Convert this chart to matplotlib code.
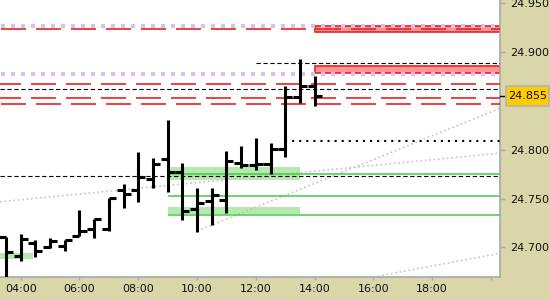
import numpy as np
import matplotlib
matplotlib.use("Agg")
import matplotlib.pyplot as plt
from matplotlib.patches import Rectangle
from matplotlib.transforms import blended_transform_factory

plt.rcParams['lines.scale_dashes'] = False
plt.rcParams['font.family'] = ['DejaVu Sans']

# ------------------------------------------
# data : half-hour OHLC bars (time in hours)
# ------------------------------------------
bar_time = [3.5, 4.0, 4.5, 5.0, 5.5, 6.0, 6.5, 7.0, 7.5, 8.0, 8.5,
            9.0, 9.5, 10.0, 10.5, 11.0, 11.5, 12.0, 12.5, 13.0, 13.5, 14.0]
bar_open = [24.711, 24.691, 24.704, 24.700, 24.701, 24.712, 24.719, 24.719, 24.759, 24.759, 24.770,
            24.790, 24.777, 24.739, 24.747, 24.749, 24.786, 24.784, 24.785, 24.801, 24.854, 24.865]
bar_high = [24.711, 24.714, 24.707, 24.710, 24.708, 24.738, 24.729, 24.751, 24.765, 24.798, 24.792,
            24.830, 24.786, 24.761, 24.761, 24.799, 24.804, 24.812, 24.807, 24.865, 24.893, 24.876]
bar_low = [24.667, 24.686, 24.690, 24.6995, 24.696, 24.712, 24.710, 24.717, 24.740, 24.746, 24.761,
           24.757, 24.728, 24.716, 24.723, 24.735, 24.781, 24.779, 24.775, 24.793, 24.848, 24.845]
bar_close = [24.695, 24.709, 24.696, 24.706, 24.708, 24.717, 24.729, 24.751, 24.755, 24.772, 24.785,
             24.777, 24.737, 24.745, 24.754, 24.788, 24.784, 24.785, 24.801, 24.854, 24.865, 24.855]
last_price = 24.855

# levels
purple_levels = [24.9271, 24.8776]
red_levels_a = [24.9234, 24.8466]
red_levels_b = [24.8670, 24.8528]
black_dash_levels = [24.8619, 24.7735]
black_dash_late = 24.8885      # from 12:00
black_dash_late_start = 12.0
black_dot_level = 24.8092      # from 13:00
black_dot_start = 13.0
green_levels = [24.7752, 24.7528, 24.7327]
green_start = 9.0
green_bands = [(24.7694, 24.7819), (24.7337, 24.7411)]
green_band_span = (9.0, 13.5)
small_band = (24.6878, 24.6946)
small_band_end = 4.43
red_boxes = [(24.9203, 24.9271), (24.8783, 24.8861)]
red_box_start = 14.0

# grey trend lines (start time, start value, end value at right edge)
trend_start_t = [3.296, 10.0, 16.0]
trend_start_v = [24.7467, 24.7167, 24.6696]
trend_end_v = [24.7965, 24.8424, 24.6939]

x_start, x_end = 3.296, 20.307
y_low, y_high = 24.6696, 24.9534

xtick_hours = [4, 6, 8, 10, 12, 14, 16, 18, 20]
xtick_labels = ['04:00', '06:00', '08:00', '10:00', '12:00', '14:00', '16:00', '18:00', '']
ytick_vals = [24.70, 24.75, 24.80, 24.90, 24.95]

'''
///////////////////////////////////////////////////////////
'''
tan = '#d9d6aa'
grey = '#a8a8a8'
red = '#ee2020'

fig = plt.figure(figsize=(5.5, 3), dpi=100)
fig.patch.set_facecolor(tan)
ax = fig.add_axes([0, 23 / 300, 500 / 550, 277 / 300])
ax.set_facecolor('white')
ax.set_xlim(x_start, x_end)
ax.set_ylim(y_low, y_high)

# shaded zones
for lo, hi in green_bands:
    ax.axhspan(lo, hi, xmin=(green_band_span[0] - x_start) / (x_end - x_start),
               xmax=(green_band_span[1] - x_start) / (x_end - x_start),
               color='#b6e9ae', lw=0, zorder=1)
ax.axhspan(small_band[0], small_band[1], xmin=0,
           xmax=(small_band_end - x_start) / (x_end - x_start), color='#b6e9ae', lw=0, zorder=1)
for lo, hi in red_boxes:
    ax.add_patch(Rectangle((red_box_start, lo), x_end - red_box_start, hi - lo,
                           facecolor='#ff9494', edgecolor=red, lw=1.2, zorder=1.5))

# levels
for v in purple_levels:
    ax.axhline(v, color='#dcbef0', lw=2.9, linestyle=(6.5, (2.9, 4.3)), zorder=2)
for v in red_levels_a:
    ax.axhline(v, color=red, lw=1.2, linestyle=(24.5, (18, 7.2)), zorder=3)
for v in red_levels_b:
    ax.axhline(v, color=red, lw=1.2, linestyle=(2.9, (18, 7.2)), zorder=3)
for v in black_dash_levels:
    ax.axhline(v, color='black', lw=0.8, linestyle=(0, (3.1, 1.9)), zorder=3)
ax.hlines(black_dash_late, black_dash_late_start, x_end, color='black', lw=0.8,
          linestyle=(0, (3.1, 1.9)), zorder=3)
ax.hlines(black_dot_level, black_dot_start, x_end, color='black', lw=1.5,
          linestyle=(0, (1.5, 3.6)), zorder=3)
ax.hlines(green_levels, green_start, x_end, color='#44cc44', lw=1.1, zorder=3)

for t0, v0, v1 in zip(trend_start_t, trend_start_v, trend_end_v):
    ax.plot([t0, x_end], [v0, v1], color='#c4c4c4', lw=1.2,
            linestyle=(0, (1.2, 2.0)), zorder=2.5)

# OHLC bars
bt = np.array(bar_time)
ax.vlines(bt, bar_low, bar_high, color='black', lw=2.2, zorder=6)
ax.hlines(bar_open, bt - 0.24, bt, color='black', lw=2.2, zorder=6)
ax.hlines(bar_close, bt, bt + 0.24, color='black', lw=2.2, zorder=6)

# axes styling
for s in ['left', 'top']:
    ax.spines[s].set_visible(False)
for s in ['right', 'bottom']:
    ax.spines[s].set_color(grey)
    ax.spines[s].set_linewidth(1.2)
ax.yaxis.tick_right()
ax.set_yticks(ytick_vals)
ax.set_yticklabels([f'{v:.3f}' for v in ytick_vals])
ax.set_xticks(xtick_hours)
ax.set_xticklabels(xtick_labels)
ax.tick_params(axis='y', length=3.6, width=1, color=grey, pad=3.5, labelsize=8, labelcolor='#111111')
ax.tick_params(axis='x', length=2.3, width=1, color=grey, pad=2.5, labelsize=8, labelcolor='#111111')

# last price label
tr = blended_transform_factory(ax.transAxes, ax.transData)
ax.add_patch(Rectangle((1.012, last_price - 0.0107), 0.085, 0.0214, transform=tr,
                       facecolor='#ffcc00', edgecolor='#b4b4b4', lw=1.2, clip_on=False, zorder=8))
ax.plot([1.0, 1.009], [last_price, last_price], color='black', lw=1, transform=tr,
        clip_on=False, zorder=8)
ax.text(1.0545, last_price, f'{last_price:.3f}', transform=tr, ha='center', va='center',
        fontsize=8, color='#111111', zorder=9, clip_on=False)

plt.savefig('out.png', dpi=100, facecolor=tan)
